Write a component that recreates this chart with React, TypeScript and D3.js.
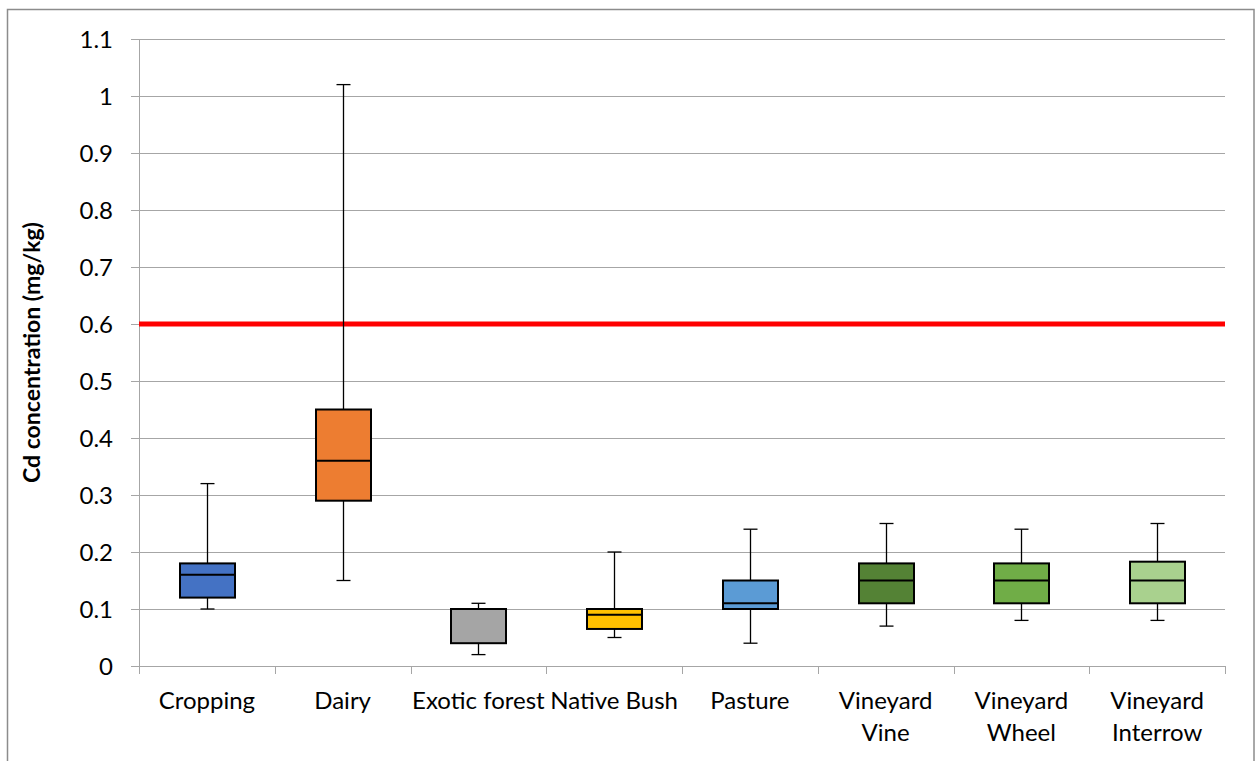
import { useEffect, useRef } from "react"
import * as d3 from "d3"

const categories = ["Cropping", "Dairy", "Exotic forest", "Native Bush", "Pasture", "Vineyard\nVine", "Vineyard\nWheel", "Vineyard\nInterrow"]
const mins = [0.1, 0.15, 0.02, 0.05, 0.04, 0.07, 0.08, 0.08]
const q1s = [0.12, 0.29, 0.04, 0.065, 0.1, 0.11, 0.11, 0.11]
const medians = [0.16, 0.36, 0.1, 0.09, 0.11, 0.15, 0.15, 0.15]
const q3s = [0.18, 0.45, 0.1, 0.1, 0.15, 0.18, 0.18, 0.183]
const maxs = [0.32, 1.02, 0.11, 0.2, 0.24, 0.25, 0.24, 0.25]
const colors = ["#4472C4", "#ED7D31", "#A5A5A5", "#FFC000", "#5B9BD5", "#548235", "#70AD47", "#A9D18E"]
const yTicks = [0, 0.1, 0.2, 0.3, 0.4, 0.5, 0.6, 0.7, 0.8, 0.9, 1, 1.1]
const guideline = 0.6

const W = 1255
const H = 761
const font = "Lato, 'Open Sans', sans-serif"

export default function App() {
  const svgRef = useRef<SVGSVGElement>(null)

  useEffect(() => {
    const svg = d3.select(svgRef.current)
    svg.selectAll("*").remove()

    const left = 139
    const right = 1225
    const top = 39
    const bottom = 666

    const x = d3.scaleBand().domain(categories).range([left, right])
    const y = d3.scaleLinear().domain([0, 1.1]).range([bottom, top])

    // outer border
    svg.append("rect")
      .attr("x", 7.5).attr("y", 9.5)
      .attr("width", W - 8.5).attr("height", H)
      .attr("fill", "white").attr("stroke", "#8c8c8c").attr("stroke-width", 1.5)

    // gridlines + y ticks
    const g = svg.append("g")
    g.selectAll("line.grid")
      .data(yTicks)
      .join("line")
      .attr("x1", left - 8).attr("x2", right)
      .attr("y1", (d) => Math.round(y(d)) + 0.5).attr("y2", (d) => Math.round(y(d)) + 0.5)
      .attr("stroke", "#a6a6a6").attr("stroke-width", 1)

    g.selectAll("text.ytick")
      .data(yTicks)
      .join("text")
      .attr("x", 113).attr("y", (d) => y(d))
      .attr("dy", "0.36em")
      .attr("text-anchor", "end")
      .attr("font-family", font).attr("font-size", 24).attr("fill", "#000")
      .text((d) => String(d))

    // y axis line
    g.append("line")
      .attr("x1", left + 0.5).attr("x2", left + 0.5)
      .attr("y1", top).attr("y2", bottom + 8)
      .attr("stroke", "#a6a6a6")

    // x ticks
    const bounds = [...categories.map((c) => x(c) as number), right]
    g.selectAll("line.xtick")
      .data(bounds)
      .join("line")
      .attr("x1", (d) => Math.round(d) + 0.5).attr("x2", (d) => Math.round(d) + 0.5)
      .attr("y1", bottom).attr("y2", bottom + 8)
      .attr("stroke", "#a6a6a6")

    // x labels
    categories.forEach((c) => {
      const cx = (x(c) as number) + x.bandwidth() / 2
      const lines = c.split("\n")
      const t = svg.append("text")
        .attr("text-anchor", "middle")
        .attr("font-family", font).attr("font-size", 24).attr("fill", "#000")
      lines.forEach((ln, i) => {
        t.append("tspan").attr("x", cx).attr("y", 709 + i * 32).text(ln)
      })
    })

    // y title
    svg.append("text")
      .attr("transform", `translate(40,${(top + bottom) / 2}) rotate(-90)`)
      .attr("text-anchor", "middle")
      .attr("font-family", font).attr("font-size", 23).attr("font-weight", "bold")
      .text("Cd concentration (mg/kg)")

    // guideline
    svg.append("line")
      .attr("x1", left).attr("x2", right)
      .attr("y1", y(guideline)).attr("y2", y(guideline))
      .attr("stroke", "#ff0000").attr("stroke-width", 5)

    // boxes
    const boxW = 55
    const capW = 14
    categories.forEach((c, i) => {
      const cx = Math.round((x(c) as number) + x.bandwidth() / 2) + 0.5
      const bg = svg.append("g")
      // whiskers
      bg.append("line").attr("x1", cx).attr("x2", cx).attr("y1", y(maxs[i])).attr("y2", y(q3s[i]))
        .attr("stroke", "#000").attr("stroke-width", 1.3)
      bg.append("line").attr("x1", cx).attr("x2", cx).attr("y1", y(q1s[i])).attr("y2", y(mins[i]))
        .attr("stroke", "#000").attr("stroke-width", 1.3)
      bg.append("line").attr("x1", cx - capW / 2).attr("x2", cx + capW / 2).attr("y1", y(maxs[i])).attr("y2", y(maxs[i]))
        .attr("stroke", "#000").attr("stroke-width", 1.3)
      bg.append("line").attr("x1", cx - capW / 2).attr("x2", cx + capW / 2).attr("y1", y(mins[i])).attr("y2", y(mins[i]))
        .attr("stroke", "#000").attr("stroke-width", 1.3)
      // box
      bg.append("rect")
        .attr("x", cx - boxW / 2).attr("width", boxW)
        .attr("y", y(q3s[i])).attr("height", y(q1s[i]) - y(q3s[i]))
        .attr("fill", colors[i]).attr("stroke", "#000").attr("stroke-width", 2)
      bg.append("line")
        .attr("x1", cx - boxW / 2).attr("x2", cx + boxW / 2)
        .attr("y1", y(medians[i])).attr("y2", y(medians[i]))
        .attr("stroke", "#000").attr("stroke-width", 2)
    })
  }, [])

  return (
    <div style={{ position: "fixed", left: 0, top: 0 }}>
      <svg ref={svgRef} width={W} height={H} style={{ display: "block", background: "white" }} />
    </div>
  )
}
